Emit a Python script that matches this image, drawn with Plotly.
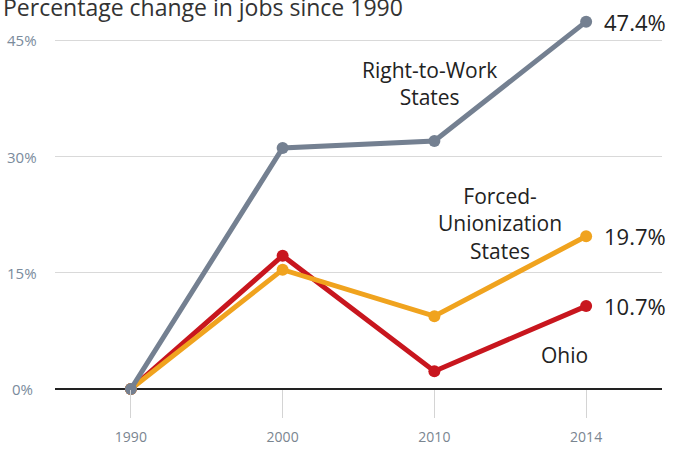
import plotly.graph_objects as go

years = ["1990", "2000", "2010", "2014"]
rtw = [0, 31.1, 32.0, 47.4]
forced = [0, 15.4, 9.4, 19.7]
ohio = [0, 17.2, 2.3, 10.7]
y_ticks = [0, 15, 30, 45]
y_tick_labels = ["0%", "15%", "30%", "45%"]

GRAY = "#748091"
ORANGE = "#F0A31E"
RED = "#C8161E"
FONT = "Open Sans"

xs = list(range(len(years)))

fig = go.Figure()
for vals, col in [(ohio, RED), (forced, ORANGE), (rtw, GRAY)]:
    fig.add_trace(go.Scatter(
        x=xs, y=vals, mode="lines+markers",
        line=dict(color=col, width=5),
        marker=dict(color=col, size=12),
        cliponaxis=False, hoverinfo="skip", showlegend=False))

# value labels at the last point
for vals in [rtw, forced, ohio]:
    fig.add_annotation(x=xs[-1], y=vals[-1], text=f"{vals[-1]:.1f}%",
                       xanchor="left", yanchor="middle", xshift=16, showarrow=False,
                       font=dict(family=FONT, size=22, color="#222222"))

# series labels
fig.add_annotation(x=1.97, y=39.4, text="Right-to-Work<br>States", showarrow=False,
                   xanchor="center", yanchor="middle",
                   font=dict(family=FONT, size=21, color="#222222"))
fig.add_annotation(x=2.43, y=21.3, text="Forced-<br>Unionization<br>States", showarrow=False,
                   xanchor="center", yanchor="middle",
                   font=dict(family=FONT, size=21, color="#222222"))
fig.add_annotation(x=2.86, y=4.4, text="Ohio", showarrow=False,
                   xanchor="center", yanchor="middle",
                   font=dict(family=FONT, size=21, color="#222222"))

# y tick labels, centred in the left margin
for v, lab in zip(y_ticks, y_tick_labels):
    fig.add_annotation(xref="paper", x=0, y=v, xshift=-33, text=lab, showarrow=False,
                       xanchor="center", yanchor="middle",
                       font=dict(family=FONT, size=15, color="#7a8b9c"))

# title
fig.add_annotation(xref="paper", yref="paper", x=0, y=1, xshift=-54, yshift=28,
                   text="Percentage change in jobs since 1990", showarrow=False,
                   xanchor="left", yanchor="top",
                   font=dict(family=FONT, size=23, color="#333333"))

fig.update_layout(
    width=673, height=449,
    margin=dict(l=55, r=11, t=17, b=60),
    paper_bgcolor="white", plot_bgcolor="white",
    font=dict(family=FONT),
    xaxis=dict(range=[-0.5, 3.5], tickmode="array", tickvals=xs, ticktext=years,
               showgrid=False, zeroline=False, showline=False, automargin=False,
               ticks="outside", ticklen=28, tickwidth=1, tickcolor="#d4d4d4",
               ticklabelstandoff=7,
               tickfont=dict(family=FONT, size=14, color="#7a8590")),
    yaxis=dict(range=[0, 48], tickmode="array", tickvals=y_ticks,
               showticklabels=False, automargin=False,
               showgrid=True, gridcolor="#d9d9d9", gridwidth=1,
               zeroline=True, zerolinecolor="#222222", zerolinewidth=1.5,
               showline=False, ticks=""),
)

fig.write_html("out.html", config={"displayModeBar": False},
               post_script="document.body.style.margin='0';document.body.style.padding='0';")
